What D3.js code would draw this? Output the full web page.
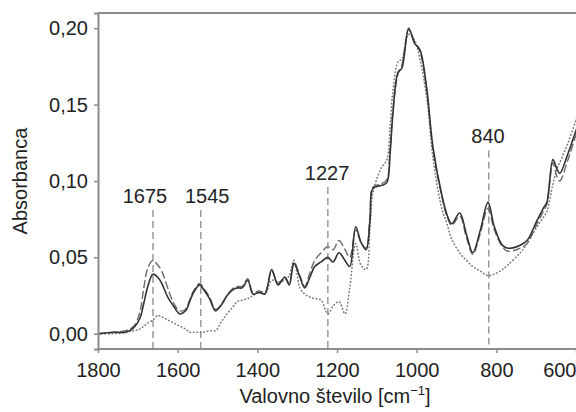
<!DOCTYPE html>
<meta charset='utf-8'>
<style>
body {
  margin: 0;
  background: #fff;
}

text {
  font-family: 'Liberation Sans', Arial, sans-serif;
  fill: #222;
}

path.spectrum {
  fill: none;
  stroke-linejoin: round;
}
</style>
<div id='chart'><svg></svg></div>
<script src="https://d3js.org/d3.v7.min.js"></script>
<script>
// wavenumbers [cm-1] shared by all three spectra
const wavenumbers = [1800, 1760, 1730, 1710, 1695, 1685, 1675, 1662, 1650, 1640, 1625, 1610, 1595, 1580, 1570, 1560,
  1545, 1535, 1520, 1505, 1490, 1476, 1460, 1450, 1438, 1424, 1411, 1395, 1381, 1364, 1348, 1331, 1320, 1308, 1293,
  1281, 1268, 1256, 1240, 1223, 1210, 1195, 1180, 1168, 1153, 1140, 1127, 1117, 1110, 1090, 1075, 1067, 1060, 1047,
  1037, 1020, 1005, 992, 975, 959, 937, 924, 912, 892, 875, 859, 840, 821, 805, 785, 771, 740, 723, 698, 680, 673,
  658, 648, 641, 620, 600, 590];

const solidSeries = [0.000, 0.001, 0.001, 0.004, 0.010, 0.020, 0.031, 0.039, 0.037, 0.033, 0.024, 0.018, 0.013, 0.015,
  0.021, 0.027, 0.032, 0.029, 0.023, 0.015, 0.019, 0.025, 0.029, 0.030, 0.030, 0.035, 0.026, 0.027, 0.026, 0.042, 0.032,
  0.037, 0.032, 0.046, 0.037, 0.030, 0.037, 0.044, 0.047, 0.050, 0.047, 0.053, 0.048, 0.044, 0.070, 0.060, 0.055, 0.075,
  0.095, 0.097, 0.099, 0.117, 0.143, 0.171, 0.174, 0.200, 0.190, 0.186, 0.161, 0.122, 0.091, 0.078, 0.072, 0.079, 0.065,
  0.053, 0.068, 0.086, 0.070, 0.058, 0.056, 0.058, 0.061, 0.074, 0.083, 0.086, 0.114, 0.108, 0.105, 0.118, 0.133, 0.140];

const dashedSeries = [0.000, 0.001, 0.002, 0.005, 0.014, 0.030, 0.043, 0.048, 0.045, 0.041, 0.030, 0.020, 0.015, 0.016,
  0.022, 0.028, 0.033, 0.030, 0.024, 0.016, 0.019, 0.025, 0.030, 0.031, 0.031, 0.036, 0.027, 0.028, 0.027, 0.041, 0.033,
  0.037, 0.033, 0.047, 0.038, 0.031, 0.040, 0.048, 0.053, 0.057, 0.055, 0.061, 0.055, 0.050, 0.068, 0.060, 0.056, 0.078,
  0.096, 0.098, 0.101, 0.120, 0.145, 0.170, 0.176, 0.199, 0.191, 0.185, 0.160, 0.120, 0.090, 0.077, 0.071, 0.077, 0.063,
  0.052, 0.066, 0.082, 0.068, 0.057, 0.054, 0.056, 0.059, 0.072, 0.081, 0.085, 0.112, 0.103, 0.100, 0.114, 0.130, 0.136];

const dottedSeries = [0.000, 0.000, 0.001, 0.002, 0.003, 0.005, 0.007, 0.009, 0.012, 0.011, 0.009, 0.007, 0.005, 0.003,
  0.001, 0.001, 0.001, 0.001, 0.002, 0.002, 0.008, 0.013, 0.018, 0.021, 0.022, 0.023, 0.025, 0.027, 0.026, 0.035, 0.034,
  0.035, 0.038, 0.048, 0.030, 0.026, 0.024, 0.023, 0.022, 0.013, 0.018, 0.021, 0.013, 0.030, 0.059, 0.045, 0.042, 0.070,
  0.092, 0.108, 0.114, 0.135, 0.158, 0.178, 0.180, 0.196, 0.192, 0.180, 0.155, 0.115, 0.082, 0.072, 0.062, 0.053, 0.048,
  0.044, 0.041, 0.038, 0.039, 0.042, 0.045, 0.053, 0.059, 0.070, 0.077, 0.080, 0.098, 0.108, 0.112, 0.125, 0.140, 0.148];

// marked bands: label text, where the dashed guide sits, where its label sits, guide top
const peakLabels = ['1675', '1545', '1227', '840'];
const peakLineAt = [1662, 1542, 1223, 819];
const peakLabelAt = [1682, 1526, 1225, 821];
const peakTops = [0.081, 0.081, 0.096, 0.120];

const xTicks = [1800, 1600, 1400, 1200, 1000, 800, 600];
const yTicks = [0, 0.05, 0.10, 0.15, 0.20];

const width = 576;
const height = 412;
const plotLeft = 98, plotTop = 13, plotBottom = 349;

const x = d3.scaleLinear().domain([1800, 600]).range([plotLeft, 576]);
const y = d3.scaleLinear().domain([-0.01, 0.21]).range([plotBottom, plotTop]);

const svg = d3.select('svg')
  .attr('width', width)
  .attr('height', height)
  .style('display', 'block');

const comma = v => d3.format('.2f')(v).replace('.', ',');

// frame top edge
svg.append('line')
  .attr('x1', plotLeft).attr('x2', width + 10)
  .attr('y1', plotTop).attr('y2', plotTop)
  .attr('stroke', '#8c8c8c')
  .attr('stroke-width', 2);

// dashed guides behind the spectra
const guides = svg.append('g').attr('class', 'guides');
peakLabels.forEach(function(label, i) {
  guides.append('line')
    .attr('x1', x(peakLineAt[i])).attr('x2', x(peakLineAt[i]))
    .attr('y1', y(peakTops[i])).attr('y2', plotBottom)
    .attr('stroke', '#9a9a9a')
    .attr('stroke-width', 1.5)
    .attr('stroke-dasharray', '7,4');
  guides.append('text')
    .attr('x', x(peakLabelAt[i]))
    .attr('y', y(peakTops[i]) - 7)
    .attr('text-anchor', 'middle')
    .style('font-size', '20px')
    .text(label);
});

const line = d3.line()
  .x((d, i) => x(wavenumbers[i]))
  .y(d => y(d))
  .curve(d3.curveCatmullRom.alpha(0.5));

svg.append('path')
  .attr('class', 'spectrum')
  .attr('d', line(dottedSeries))
  .attr('stroke', '#7a7a7a')
  .attr('stroke-width', 1.6)
  .attr('stroke-linecap', 'round')
  .attr('stroke-dasharray', '0.5,3');

svg.append('path')
  .attr('class', 'spectrum')
  .attr('d', line(dashedSeries))
  .attr('stroke', '#6a6a6a')
  .attr('stroke-width', 1.4)
  .attr('stroke-dasharray', '8,3');

svg.append('path')
  .attr('class', 'spectrum')
  .attr('d', line(solidSeries))
  .attr('stroke', '#333')
  .attr('stroke-width', 1.6);

// axes
const xAxis = svg.append('g')
  .attr('transform', 'translate(0,' + plotBottom + ')')
  .call(d3.axisBottom(x).tickValues(xTicks).tickSize(4).tickPadding(10).tickFormat(d3.format('d')));

const yAxis = svg.append('g')
  .attr('transform', 'translate(' + plotLeft + ',0)')
  .call(d3.axisLeft(y).tickValues(yTicks).tickSize(4).tickPadding(6).tickFormat(comma));

[xAxis, yAxis].forEach(function(ax) {
  ax.select('.domain').attr('stroke', '#8c8c8c').attr('stroke-width', 2);
  ax.selectAll('.tick line').attr('stroke', '#8c8c8c').attr('stroke-width', 1.5);
  ax.selectAll('.tick text')
    .attr('fill', '#222')
    .style('font-size', '20px')
    .style('font-family', "'Liberation Sans', Arial, sans-serif");
});

xAxis.select('.domain').attr('d', 'M' + plotLeft + ',0H' + (width + 10));

// the last label sits against the right edge, as in the printed figure
xAxis.selectAll('.tick text')
  .filter(d => d === 600)
  .attr('text-anchor', 'end')
  .attr('x', 0);

// axis titles
const xTitle = svg.append('text')
  .attr('x', 335)
  .attr('y', 403)
  .attr('text-anchor', 'middle')
  .style('font-size', '20px')
  .text('Valovno število [cm');
xTitle.append('tspan')
  .attr('dy', -8)
  .style('font-size', '13px')
  .text('−1');
xTitle.append('tspan')
  .attr('dy', 8)
  .text(']');

svg.append('text')
  .attr('transform', 'translate(27,' + (plotTop + plotBottom) / 2 + ') rotate(-90)')
  .attr('text-anchor', 'middle')
  .style('font-size', '20px')
  .text('Absorbanca');
</script>
